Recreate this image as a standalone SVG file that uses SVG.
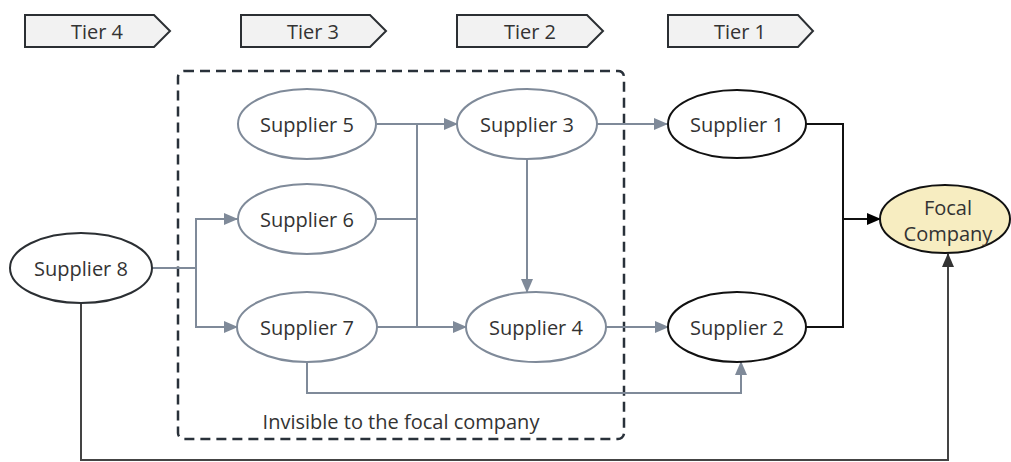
<svg xmlns="http://www.w3.org/2000/svg" width="1011" height="462" viewBox="0 0 1011 462">
<style>
text{font-family:"Open Sans","Noto Sans","Liberation Sans",sans-serif;font-size:20px;fill:#333;text-anchor:middle;dominant-baseline:central}
.tier{fill:#f2f2f2;stroke:#2b2f33;stroke-width:2}
.g{fill:#fff;stroke:#7f8a99;stroke-width:2}
.b{fill:#fff;stroke:#111;stroke-width:2}
.f{fill:#f7edc1;stroke:#111;stroke-width:2}
.cg{fill:none;stroke:#7f8a99;stroke-width:2}
.cb{fill:none;stroke:#111;stroke-width:2}
.cd{fill:none;stroke:#444;stroke-width:2}
</style>
<defs>
<marker id="ag" markerUnits="userSpaceOnUse" markerWidth="14" markerHeight="12" refX="13" refY="6" orient="auto"><path d="M0,0 L14,6 L0,12 z" fill="#7f8a99"/></marker>
<marker id="ab" markerUnits="userSpaceOnUse" markerWidth="14" markerHeight="12" refX="13" refY="6" orient="auto"><path d="M0,0 L14,6 L0,12 z" fill="#000"/></marker>
<marker id="ad" markerUnits="userSpaceOnUse" markerWidth="14" markerHeight="12" refX="13" refY="6" orient="auto"><path d="M0,0 L14,6 L0,12 z" fill="#333"/></marker>
</defs>
<g id="tiers">
<g id="tier4"><path class="tier" d="M25,15 H154 L170,31 L154,47 H25 Z"/><text x="97" y="31">Tier 4</text></g>
<g id="tier3"><path class="tier" d="M241,15 H370 L386,31 L370,47 H241 Z"/><text x="313" y="31">Tier 3</text></g>
<g id="tier2"><path class="tier" d="M457,15 H587 L603,31 L587,47 H457 Z"/><text x="530" y="31">Tier 2</text></g>
<g id="tier1"><path class="tier" d="M668,15 H798 L813,31 L798,47 H668 Z"/><text x="740" y="31">Tier 1</text></g>
</g>
<g id="invisible-region">
<rect x="178" y="71" width="446" height="368" rx="6" fill="none" stroke="#29313a" stroke-width="2.5" stroke-dasharray="10 6"/>
<text x="401" y="421">Invisible to the focal company</text>
</g>
<g id="connectors">
<path class="cg" d="M377,124 H457" marker-end="url(#ag)"/>
<path class="cg" d="M377,219 H417 M417,124 V327"/>
<path class="cg" d="M377,327 H466" marker-end="url(#ag)"/>
<path class="cg" d="M527,160 V292" marker-end="url(#ag)"/>
<path class="cg" d="M597,124 H667" marker-end="url(#ag)"/>
<path class="cg" d="M606,327 H668" marker-end="url(#ag)"/>
<path class="cg" d="M152,268 H196 V219 H237" marker-end="url(#ag)"/>
<path class="cg" d="M196,268 V327 H237" marker-end="url(#ag)"/>
<path class="cg" d="M307,362 V393 H741 V362" marker-end="url(#ag)"/>
<path class="cb" d="M806,124 H843 V327 H806"/>
<path class="cb" d="M843,219 H880" marker-end="url(#ab)"/>
<path class="cd" d="M81,303 V460 H948 V254" marker-end="url(#ad)"/>
</g>
<g id="supplier5"><ellipse class="g" cx="307" cy="124" rx="69" ry="35"/><text x="307" y="124">Supplier 5</text></g>
<g id="supplier3"><ellipse class="g" cx="527" cy="124" rx="70" ry="35"/><text x="527" y="124">Supplier 3</text></g>
<g id="supplier6"><ellipse class="g" cx="307" cy="219" rx="69" ry="35"/><text x="307" y="219">Supplier 6</text></g>
<g id="supplier7"><ellipse class="g" cx="307" cy="327" rx="70" ry="35"/><text x="307" y="327">Supplier 7</text></g>
<g id="supplier4"><ellipse class="g" cx="536" cy="327" rx="70" ry="35"/><text x="536" y="327">Supplier 4</text></g>
<g id="supplier8"><ellipse fill="#fff" stroke="#2b2f33" stroke-width="2" cx="81" cy="268" rx="71" ry="35"/><text x="81" y="268">Supplier 8</text></g>
<g id="supplier1"><ellipse class="b" cx="737" cy="124" rx="69" ry="34"/><text x="737" y="124">Supplier 1</text></g>
<g id="supplier2"><ellipse class="b" cx="737" cy="327" rx="69" ry="35"/><text x="737" y="327">Supplier 2</text></g>
<g id="focal"><ellipse class="f" cx="945" cy="219" rx="65" ry="34"/><text x="948" y="207">Focal</text><text x="948" y="233">Company</text></g>
</svg>
